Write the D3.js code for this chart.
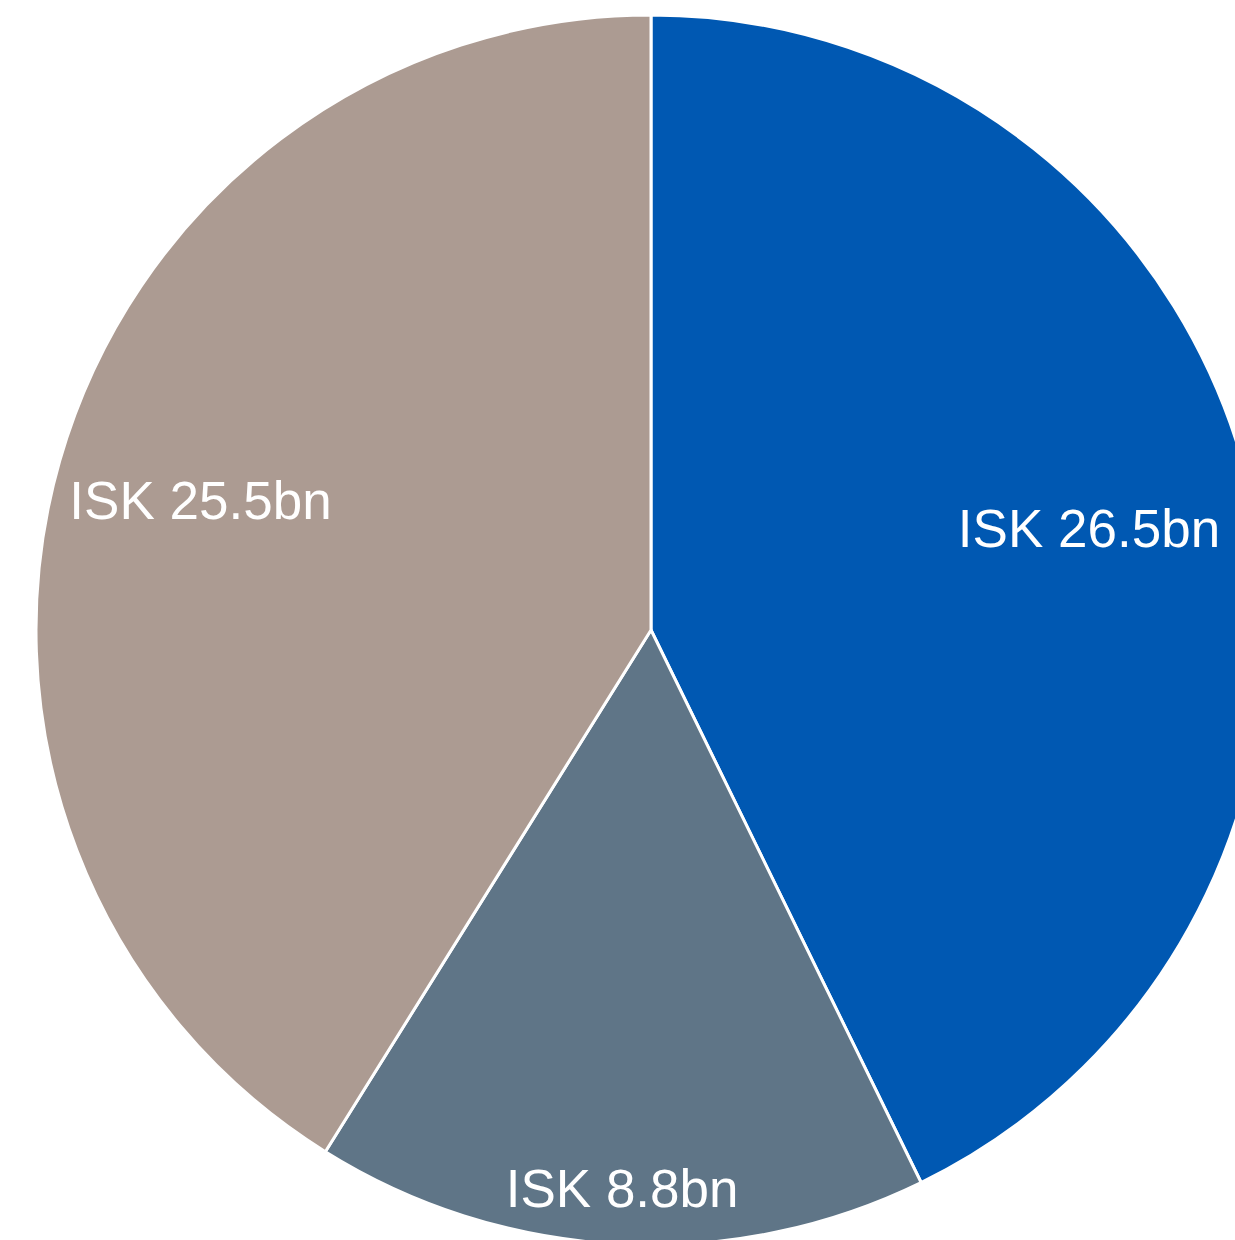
<!DOCTYPE html>
<html>
<head>
<meta charset="utf-8">
<script src="https://cdn.jsdelivr.net/npm/d3@7"></script>
<style>
html,body{margin:0;padding:0;background:#fff;overflow:hidden;}
svg{display:block;}
</style>
</head>
<body>
<svg id="chart" width="1235" height="1240"></svg>
<script>
const categories = ["A", "B", "C"];
// slice sizes as drawn in the picture (angles)
const sliceValues = [26.0, 9.8, 25.0];
const labels = ["ISK 26.5bn", "ISK 8.8bn", "ISK 25.5bn"];
const colors = ["#0058B2", "#5F7587", "#AC9B92"];
const labelRadiusFactor = [0.731, 0.909, 0.762];

const svg = d3.select("#chart");
const cx = 651, cy = 630, R = 615;
const g = svg.append("g").attr("transform", `translate(${cx},${cy})`);

const data = categories.map((c, i) => ({cat: c, value: sliceValues[i], label: labels[i], color: colors[i], lr: labelRadiusFactor[i]}));
const pie = d3.pie().value(d => d.value).sort(null);
const arcs = pie(data);
const arc = d3.arc().innerRadius(0).outerRadius(R);

g.selectAll("path.slice").data(arcs).enter().append("path")
  .attr("class", "slice")
  .attr("d", arc)
  .attr("fill", d => d.data.color)
  .attr("stroke", "#fff")
  .attr("stroke-width", 3)
  .attr("stroke-linejoin", "round");

g.selectAll("text.lbl").data(arcs).enter().append("text")
  .attr("class", "lbl")
  .attr("transform", d => {
    const r = R * d.data.lr;
    const la = d3.arc().innerRadius(r).outerRadius(r);
    const [x, y] = la.centroid(d);
    return `translate(${x},${y})`;
  })
  .attr("text-anchor", "middle")
  .attr("dy", "0.35em")
  .attr("fill", "#fff")
  .style("font-family", "'Liberation Sans', Arial, sans-serif")
  .style("font-size", "53px")
  .text(d => d.data.label);
</script>
</body>
</html>
